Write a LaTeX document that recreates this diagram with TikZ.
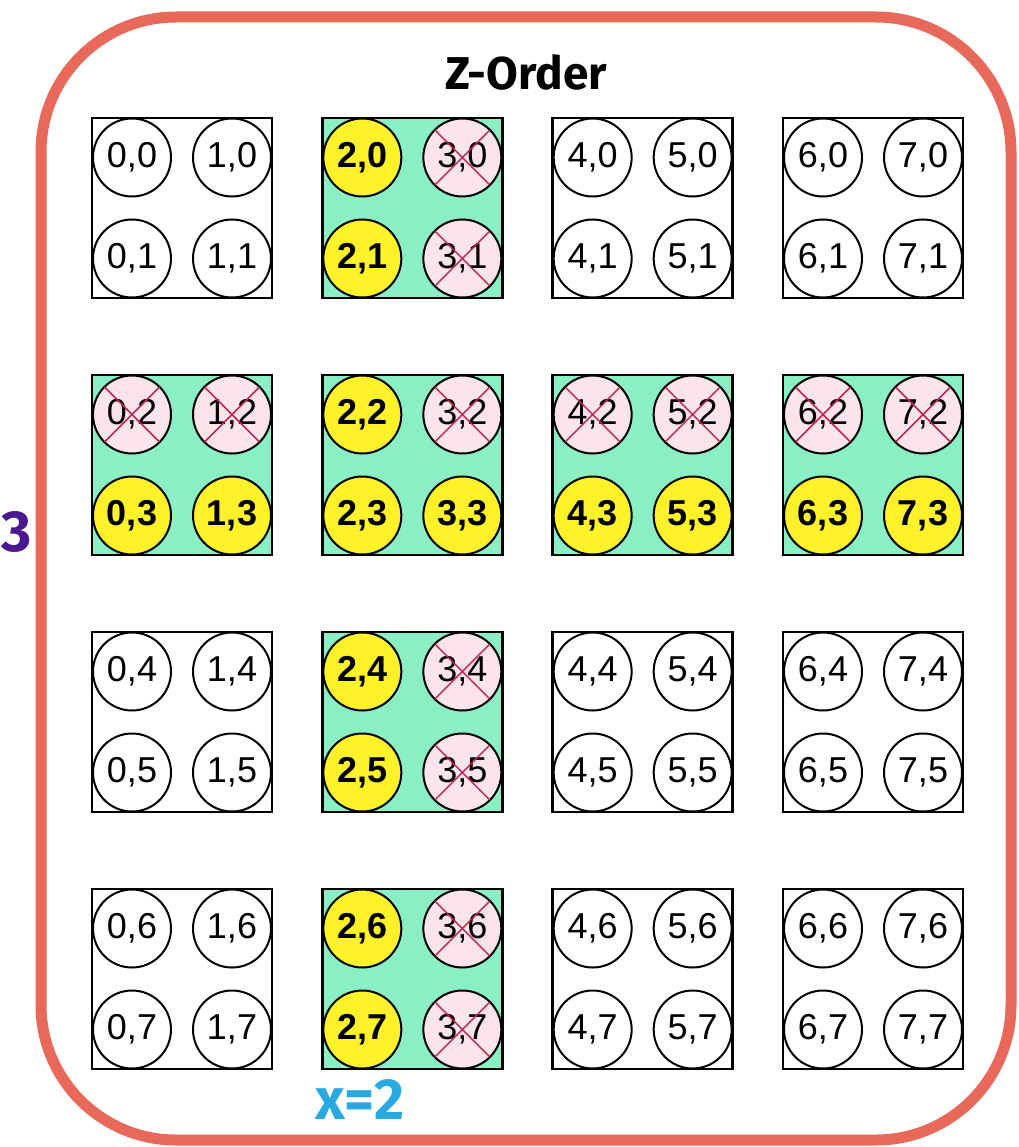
\documentclass[tikz,border=0pt]{standalone}
\usepackage{fontspec}
\setmainfont{Liberation Sans}
\newfontfamily\figfont{Fira Sans}
\definecolor{framec}{HTML}{E8695A}
\definecolor{mint}{HTML}{8AEFC4}
\definecolor{yel}{HTML}{FFF22A}
\definecolor{pinkc}{HTML}{FBE4EA}
\definecolor{xred}{HTML}{C02452}
\definecolor{purp}{HTML}{4A1890}
\definecolor{cyanc}{HTML}{2AA8E2}
\tikzset{
  plainbox/.style={draw=black, line width=2.8pt, minimum size=180pt, inner sep=0pt, outer sep=0pt},
  greenbox/.style={plainbox, fill=mint},
  circbase/.style={circle, draw=black, line width=2pt, minimum size=78pt, inner sep=0pt, outer sep=0pt, font=\fontsize{36}{36}\selectfont},
  plaincirc/.style={circbase, fill=white},
  yelcirc/.style={circbase, fill=yel, font=\bfseries\fontsize{36}{36}\selectfont},
  crosscirc/.style={circbase, fill=pinkc},
  xline/.style={draw=xred, line width=1.5pt},
  framestyle/.style={draw=framec, line width=11pt, rounded corners=135pt},
}
\begin{document}
\begin{tikzpicture}[x=1pt,y=-1pt]
\useasboundingbox (0,0) rectangle (1018,1147);
\draw[framestyle] (41,17) rectangle (1011,1140);
\node[font=\figfont\bfseries\fontsize{46}{46}\selectfont] (title) at (526,72) {Z-Order};
\foreach \c in {0,...,3}{
 \foreach \r in {0,...,3}{
  \pgfmathsetmacro\bx{92+230.33*\c}
  \pgfmathsetmacro\by{118+257*\r}
  \pgfmathtruncatemacro\g{or(\c==1,\r==1)}
  \ifnum\g=1
    \node[greenbox, anchor=north west] (b-\c-\r) at (\bx,\by) {};
  \else
    \node[plainbox, anchor=north west] (b-\c-\r) at (\bx,\by) {};
  \fi
  \foreach \i in {0,1}{
   \foreach \j in {0,1}{
     \pgfmathtruncatemacro\X{2*\c+\i}
     \pgfmathtruncatemacro\Y{2*\r+\j}
     \pgfmathtruncatemacro\yl{or(\X==2,\Y==3)}
     \pgfmathsetmacro\cx{\bx+40+100*\i}
     \pgfmathsetmacro\cy{\by+39.5+101*\j}
     \ifnum\yl=1
       \node[yelcirc] (p-\X-\Y) at (\cx,\cy) {\X,\Y};
     \else
       \ifnum\g=1
         \node[crosscirc] (p-\X-\Y) at (\cx,\cy) {\X,\Y};
         \draw[xline] (p-\X-\Y.45) -- (p-\X-\Y.225);
         \draw[xline] (p-\X-\Y.135) -- (p-\X-\Y.315);
       \else
         \node[plaincirc] (p-\X-\Y) at (\cx,\cy) {\X,\Y};
       \fi
     \fi
   }
  }
 }
}
\node[font=\figfont\bfseries\fontsize{58}{58}\selectfont, text=purp] (ylab) at (17,532) {3};
\node[font=\figfont\bfseries\fontsize{58}{58}\selectfont, text=cyanc] (xlab) at (360,1099) {x=2};
\end{tikzpicture}
\end{document}
